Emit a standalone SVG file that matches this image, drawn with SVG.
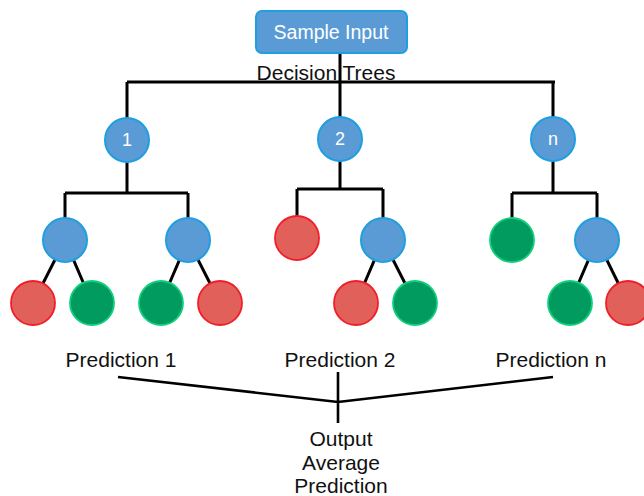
<svg xmlns="http://www.w3.org/2000/svg" width="644" height="496" viewBox="0 0 644 496">
  <style>
    .wire { stroke: #000; stroke-width: 3; fill: none; }
    .blue { fill: #5b9bd5; stroke: #1f9ee0; stroke-width: 2; }
    .red { fill: #e2605a; stroke: #f01e28; stroke-width: 1.8; }
    .green { fill: #019a5f; stroke: #0ed07e; stroke-width: 1.8; }
    .lbl { font-family: "Liberation Sans", Arial, sans-serif; font-size: 21px; fill: #111; text-anchor: middle; }
    .num { font-family: "Liberation Sans", Arial, sans-serif; font-size: 18px; fill: #fff; text-anchor: middle; }
    .title { font-family: "Liberation Sans", Arial, sans-serif; font-size: 19.5px; fill: #fff; text-anchor: middle; }
  </style>

  <!-- connectors -->
  <g id="connectors" class="wire">
    <path d="M340 53 V82 M127 82 H555 M127 82 V120 M340 82 V120 M553 82 V120"/>
    <!-- tree 1 -->
    <path d="M127 160 V193 M65 193 H188 M65 193 V222 M188 193 V222"/>
    <path d="M65 240 L33 303 M65 240 L92 303 M188 240 L161 303 M188 240 L220 303"/>
    <!-- tree 2 -->
    <path d="M340 160 V189 M297 189 H383 M297 189 V222 M383 189 V222"/>
    <path d="M383 240 L356 303 M383 240 L415 303"/>
    <!-- tree n -->
    <path d="M553 160 V193 M512 193 H597 M512 193 V222 M597 193 V222"/>
    <path d="M597 240 L570 303 M597 240 L628 303"/>
    <!-- aggregation -->
    <path d="M118 377 L338 402 L553 377 M338 372 V423" stroke-width="2.6"/>
  </g>

  <g id="sample-input">
    <rect x="256" y="11" width="151" height="42" rx="6" class="blue"/>
    <text x="331" y="39" class="title">Sample Input</text>
  </g>
  <g id="decision-trees-label">
    <text x="326" y="80" class="lbl">Decision Trees</text>
  </g>

  <!-- tree 1 -->
  <g id="tree1-root"><circle cx="127" cy="140" r="22" class="blue"/><text x="127" y="146" class="num">1</text></g>
  <g id="tree1-left"><circle cx="65" cy="240" r="22" class="blue"/></g>
  <g id="tree1-right"><circle cx="188" cy="240" r="22" class="blue"/></g>
  <g id="tree1-leaf1"><circle cx="33" cy="303" r="22" class="red"/></g>
  <g id="tree1-leaf2"><circle cx="92" cy="303" r="22" class="green"/></g>
  <g id="tree1-leaf3"><circle cx="161" cy="303" r="22" class="green"/></g>
  <g id="tree1-leaf4"><circle cx="220" cy="303" r="22" class="red"/></g>

  <!-- tree 2 -->
  <g id="tree2-root"><circle cx="340" cy="139" r="22" class="blue"/><text x="340" y="145" class="num">2</text></g>
  <g id="tree2-left"><circle cx="297" cy="238" r="22" class="red"/></g>
  <g id="tree2-right"><circle cx="383" cy="240" r="22" class="blue"/></g>
  <g id="tree2-leaf1"><circle cx="356" cy="303" r="22" class="red"/></g>
  <g id="tree2-leaf2"><circle cx="415" cy="303" r="22" class="green"/></g>

  <!-- tree n -->
  <g id="treen-root"><circle cx="553" cy="139" r="22" class="blue"/><text x="553" y="145" class="num">n</text></g>
  <g id="treen-left"><circle cx="512" cy="240" r="22" class="green"/></g>
  <g id="treen-right"><circle cx="597" cy="240" r="22" class="blue"/></g>
  <g id="treen-leaf1"><circle cx="570" cy="303" r="22" class="green"/></g>
  <g id="treen-leaf2"><circle cx="628" cy="303" r="22" class="red"/></g>

  <!-- predictions -->
  <g id="prediction-1"><text x="121" y="367" class="lbl">Prediction 1</text></g>
  <g id="prediction-2"><text x="340" y="367" class="lbl">Prediction 2</text></g>
  <g id="prediction-n"><text x="551" y="367" class="lbl">Prediction n</text></g>

  <g id="output">
    <text x="341" y="446" class="lbl">Output</text>
    <text x="341" y="470" class="lbl">Average</text>
    <text x="341" y="493" class="lbl">Prediction</text>
  </g>
</svg>
